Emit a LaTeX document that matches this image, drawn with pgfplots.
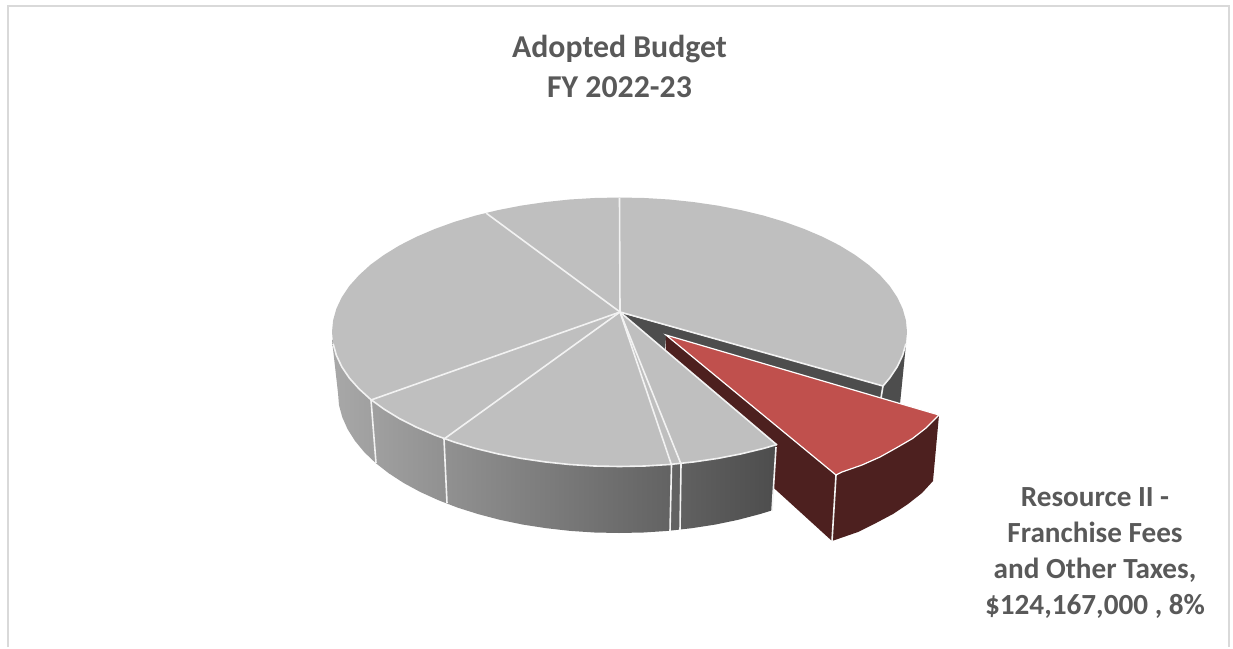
\documentclass[border=0pt]{standalone}
\usepackage{fontspec}
\setmainfont{Carlito}
\usepackage{pgfplots}
\pgfplotsset{compat=1.18}
\definecolor{topgrey}{HTML}{BFBFBF}
\definecolor{sidedark}{HTML}{4D4D4D}
\definecolor{sidelight}{HTML}{A8A8A8}
\definecolor{wedgered}{HTML}{C0504D}
\definecolor{wedgedark}{HTML}{4D201F}
\definecolor{labeltext}{HTML}{595959}
\definecolor{framegrey}{HTML}{D9D9D9}

\begin{document}
\begin{tikzpicture}
\begin{axis}[
  scale only axis,
  width=1233pt, height=647pt,
  xmin=0, xmax=1233, ymin=0, ymax=647,
  y dir=reverse,
  axis lines=none,
  clip=false,
  no markers,
  sep/.style={draw=white!95!black, line width=1.6pt},
]
% keeps the page at the full size, hidden axis lines don't
\addplot[draw=none] coordinates {(0,0) (1233,647)};

% chart frame
\addplot[framegrey, line width=2pt] coordinates {(7.5,647) (7.5,6) (1229,6) (1229,647)};

% right part of the side wall and inner face of the gap
\addplot[fill=sidedark, draw=none] coordinates {(906,344) (900,404) (880,402) (882,386)} -- cycle;
\addplot[fill=sidedark, draw=none] coordinates {(621,313) (883,386) (883,400) (666,337) (665,350)} -- cycle;

% exploded slice, inner wall
\addplot[fill=wedgedark, draw=none] coordinates {(666,335) (836,475) (832,541) (776,490) (665,388)} -- cycle;

% long side wall
\addplot[left color=sidelight, right color=sidedark, draw=none] coordinates {
  (332,340) (338,393) (339,405.2) (342.3,417.3) (347.6,429.2) (355,440.9) (364.3,452.2)
  (375.6,463) (388.8,473.3) (403.7,483) (420.3,492) (438.4,500.2) (457.8,507.7)
  (478.5,514.2) (500.2,519.9) (522.9,524.6) (546.3,528.2) (570.2,530.9) (594.5,532.5)
  (619,533) (643.5,532.5) (667.8,530.9) (691.7,528.2) (715.1,524.6) (737.8,519.9)
  (759.5,514.2) (772,510.4) (776,446) (620,330)} -- cycle;

% exploded slice, outer wall
\addplot[fill=wedgedark, draw=none] coordinates {
  (836,475) (842,472) (862,465) (880,457) (897,447.5) (912.5,438.5) (926,428) (939,415)
  (933,481) (922,493) (908,504) (893,514) (876,523) (858,532) (832,541)} -- cycle;
\addplot[sep] coordinates {(836,475) (832,541)};

% exploded slice, top
\addplot[fill=wedgered, draw=white, line width=1.2pt] coordinates {
  (666,335) (939,415) (926,428) (912.5,438.5) (897,447.5) (880,457) (862,465) (842,472) (836,475)} -- cycle;

% top of the pie, without the exploded slice
\addplot[fill=topgrey, draw=none] coordinates {
  (620,312) (883,386) (889.7,378) (897.2,366.8) (902.6,355.4) (905.9,343.7) (907,332)
  (905.9,320.3) (902.6,308.6) (897.2,297.2) (889.7,286) (880.1,275.2) (868.5,264.8)
  (855,254.9) (839.7,245.5) (822.8,236.9) (804.3,229) (784.4,221.8) (763.3,215.5)
  (741,210.1) (717.8,205.6) (693.9,202.1) (669.4,199.5) (644.6,198) (619.5,197.5)
  (594.4,198) (569.6,199.5) (545.1,202.1) (521.2,205.6) (498,210.1) (475.8,215.5)
  (454.6,221.8) (434.7,229) (416.2,236.9) (399.3,245.5) (384,254.9) (370.5,264.7)
  (359,275.2) (349.3,286) (341.8,297.2) (336.4,308.6) (333.1,320.3) (332,332)
  (333.1,343.7) (336.4,355.4) (341.8,366.8) (349.3,378) (359,388.8) (370.5,399.3)
  (384,409.1) (399.3,418.5) (416.2,427.1) (434.7,435) (454.6,442.2) (475.8,448.5)
  (498,453.9) (521.2,458.4) (545.1,461.9) (569.6,464.5) (594.4,466) (619.5,466.5)
  (644.6,466) (669.4,464.5) (693.9,461.9) (717.8,458.4) (741,453.9) (763.3,448.5)
  (777,444.5)} -- cycle;

% rim highlights
\addplot[sep] coordinates {
  (333.1,343.7) (336.4,355.4) (341.8,366.8) (349.3,378) (359,388.8) (370.5,399.3)
  (384,409.1) (399.3,418.5) (416.2,427.1) (434.7,435) (454.6,442.2) (475.8,448.5)
  (498,453.9) (521.2,458.4) (545.1,461.9) (569.6,464.5) (594.4,466) (619.5,466.5)
  (644.6,466) (669.4,464.5) (693.9,461.9) (717.8,458.4) (741,453.9) (763.3,448.5)
  (777,444.5)};
\addplot[sep] coordinates {(905.9,343.7) (902.6,355.4) (897.2,366.8) (889.7,378) (883,386)};

% slice separators on top
\addplot[sep] coordinates {(620,312) (619.5,198)};
\addplot[sep] coordinates {(620,312) (486,213)};
\addplot[sep] coordinates {(620,312) (371,400)};
\addplot[sep] coordinates {(620,312) (444,439)};
\addplot[sep] coordinates {(620,312) (671.5,465)};
\addplot[sep] coordinates {(620,312) (681,464)};
\addplot[sep] coordinates {(620,312) (777,445)};
\addplot[sep] coordinates {(620,312) (883,386)};

% separators on the wall
\addplot[sep] coordinates {(371,400) (376,463)};
\addplot[sep] coordinates {(444,439) (447,503)};
\addplot[sep] coordinates {(671.5,465) (670,531)};
\addplot[sep] coordinates {(681,464) (680,530)};
\addplot[sep] coordinates {(776,447) (772,511)};
\addplot[sep] coordinates {(883,386) (881,398)};

\node[font=\fontsize{31.8}{40}\selectfont\bfseries, text=labeltext, align=center] at (axis cs:619.5,66) {Adopted Budget\\FY 2022-23};
\node[font=\fontsize{29.2}{36}\selectfont\bfseries, text=labeltext, align=center] at (axis cs:1095,553) {Resource II -\\Franchise Fees\\and Other Taxes,\\\$124,167,000 , 8\%};
\end{axis}
\end{tikzpicture}
\end{document}
